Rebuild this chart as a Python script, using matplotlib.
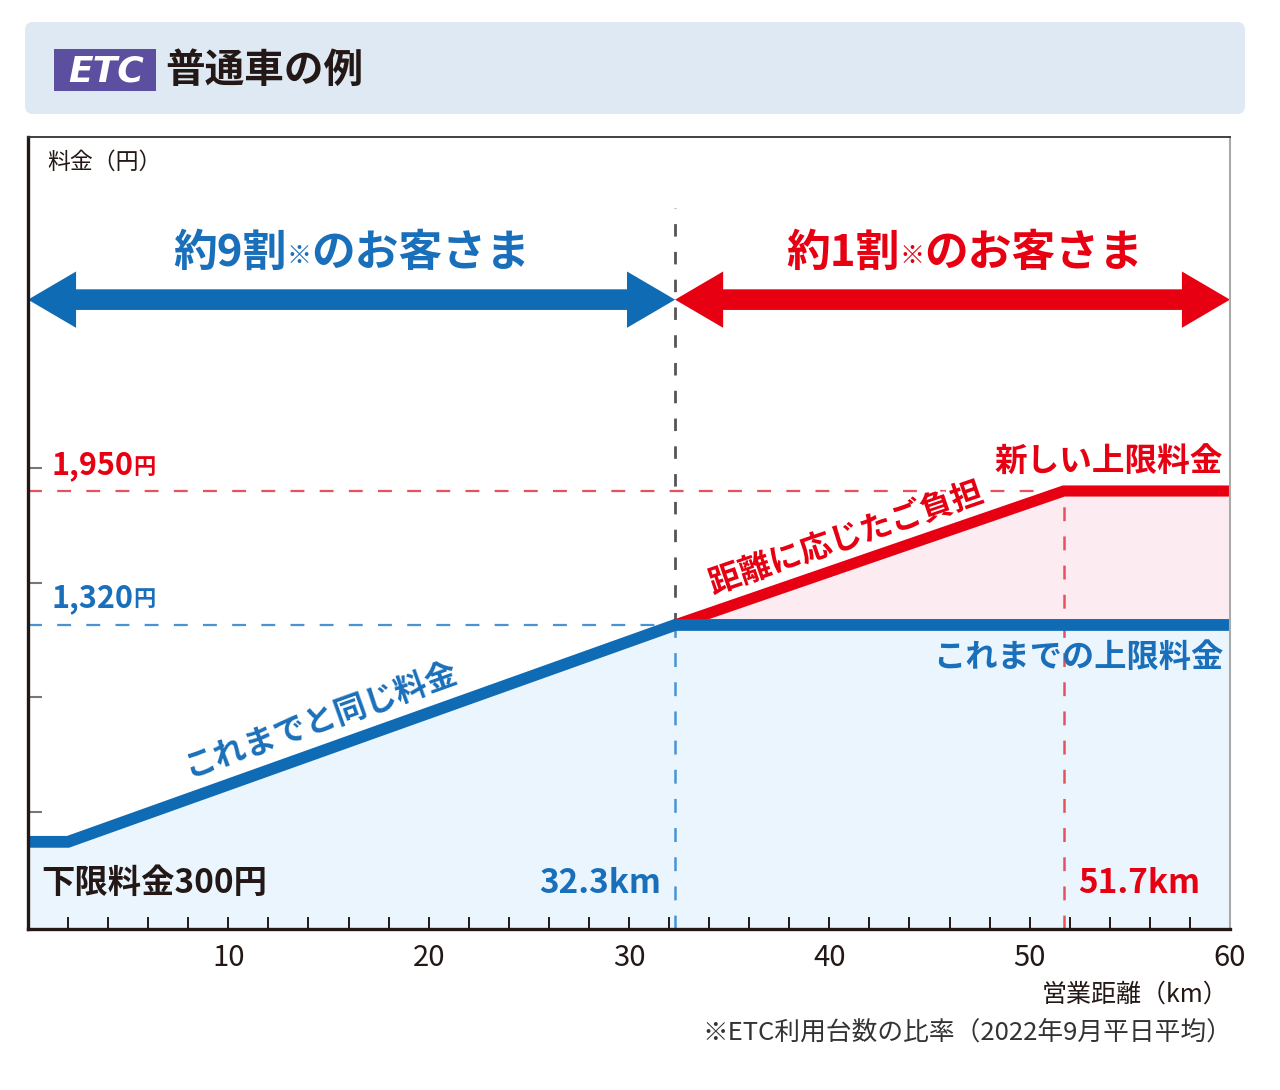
import matplotlib
matplotlib.use('Agg')
import matplotlib.pyplot as plt
import matplotlib.patheffects as pe
from matplotlib.patches import FancyBboxPatch, Rectangle, FancyArrow

plt.rcParams['font.family'] = ['Noto Sans CJK JP', 'DejaVu Sans']
plt.rcParams['lines.scale_dashes'] = False

# ---------------- data ----------------
old_km = [0, 2, 32.3, 60]            # これまでの料金
old_fare = [300, 300, 1320, 1320]
new_km = [32.3, 51.7, 60]            # 新しい料金
new_fare = [1320, 1950, 1950]
old_cap_km = 32.3
new_cap_km = 51.7
old_cap = 1320
new_cap = 1950
x_max = 60
x_ticks = list(range(2, 61, 2))
x_tick_labels = ['10', '20', '30', '40', '50', '60']
y_ticks = [440, 980, 1515, 2060]
share_left = ['約9割', '※', 'のお客さま']
share_right = ['約1割', '※', 'のお客さま']
y_limits = (-110, 3615)
arrow_level = 2850
share_text_level = 3070
divider_top = 3280

# ---------------- colours ----------------
BLUE = '#106bb5'
BLUE_T = '#1a6fba'
BLUE_D = '#4a92d2'
RED = '#e60012'
RED_D = '#e9505e'
FILL_BLUE = '#eaf5fd'
FILL_PINK = '#fcecf1'
DARK = '#231815'

fig = plt.figure(figsize=(12.8, 10.9), dpi=100, facecolor='white')

# overlay for header / footnote (pixel coordinates)
ov = fig.add_axes([0, 0, 1, 1], zorder=-1)
ov.set_xlim(0, 1280)
ov.set_ylim(1090, 0)
ov.axis('off')
ov.add_patch(FancyBboxPatch((25, 22), 1220, 92,
                            boxstyle='round,pad=0,rounding_size=8',
                            fc='#dfe9f3', ec='none'))
ov.add_patch(Rectangle((54, 49), 102, 42, fc='#5d4f9f', ec='none'))
ov.text(106, 71, 'ETC', color='white', family='DejaVu Sans', style='italic',
        weight='bold', fontsize=26, ha='center', va='center')
ov.text(165, 70, '普通車の例', color=DARK, fontsize=28.5, weight='bold',
        ha='left', va='center')
ov.text(1228, 995, '営業距離（km）', color=DARK, fontsize=18,
        ha='right', va='center')
ov.text(1232, 1033, '※ETC利用台数の比率（2022年9月平日平均）', color='#333333',
        fontsize=18.5, ha='right', va='center')

# main axes
L, R, T, B = 28, 1230, 137, 929
ax = fig.add_axes([L / 1280, (1090 - B) / 1090, (R - L) / 1280, (B - T) / 1090])
ax.set_xlim(0, x_max)
ax.set_ylim(*y_limits)
ybot = y_limits[0]

# fills
ax.fill_between(old_km, ybot, old_fare, color=FILL_BLUE, lw=0, zorder=1)
ax.fill_between(new_km, old_cap, new_fare, color=FILL_PINK, lw=0, zorder=1)

# dashed guide lines
dash = (0, (10, 11))
ax.plot([0, new_cap_km], [new_cap, new_cap], color=RED_D, lw=1.6,
        linestyle=dash, zorder=2)
ax.plot([0, old_cap_km], [old_cap, old_cap], color=BLUE_D, lw=1.6,
        linestyle=dash, zorder=2)
ax.plot([old_cap_km, old_cap_km], [old_cap, divider_top], color='#555555',
        lw=2.0, linestyle=(0, (9, 11)), zorder=2)
ax.plot([old_cap_km, old_cap_km], [ybot, old_cap], color=BLUE_D, lw=1.8,
        linestyle=dash, zorder=2)
ax.plot([new_cap_km, new_cap_km], [ybot, new_cap], color=RED_D, lw=1.8,
        linestyle=dash, zorder=2)

# fare lines
ax.plot(new_km, new_fare, color=RED, lw=8, solid_joinstyle='miter',
        solid_capstyle='butt', zorder=4)
ax.plot(old_km, old_fare, color=BLUE, lw=8.5, solid_joinstyle='miter',
        solid_capstyle='butt', zorder=5)

# double arrows: two overlapping single arrows, each tail hidden in the
# other arrow's head (no seam, no protruding shaft)
HEAD_LEN = 2.4
def double_arrow(x0, x1, color):
    for start, end in ((x1 - HEAD_LEN, x0), (x0 + HEAD_LEN, x1)):
        ax.add_patch(FancyArrow(start, arrow_level, end - start, 0, width=95,
                                head_width=265, head_length=HEAD_LEN,
                                length_includes_head=True, color=color,
                                lw=0, zorder=6))

double_arrow(0, old_cap_km, BLUE)
double_arrow(old_cap_km, x_max, RED)

def share_text(x, parts, color):
    t1 = ax.text(x, share_text_level, parts[0], color=color, fontsize=31.5,
                 weight='bold', ha='left', va='center', zorder=7)
    t2 = ax.annotate(parts[1], xy=(1, 0.42), xycoords=t1, color=color,
                     fontsize=18, weight='bold', ha='left', va='center',
                     zorder=7)
    ax.annotate(parts[2], xy=(1, 0), xycoords=(t2, t1), color=color,
                fontsize=31.5, weight='bold', ha='left', va='bottom', zorder=7)

share_text(7.25, share_left, BLUE_T)
share_text(37.85, share_right, RED)

# value labels
def yen_label(x, y, num, color):
    t = ax.text(x, y, num, color=color, fontsize=22, weight='bold',
                ha='left', va='center', zorder=7)
    ax.annotate('円', xy=(1, 0.08), xycoords=t, color=color, fontsize=16,
                weight='bold', ha='left', va='bottom', zorder=7)

yen_label(1.15, 2072, '1,950', RED)
yen_label(1.15, 1447, '1,320', BLUE_T)

ax.text(59.65, 2086, '新しい上限料金', color=RED, fontsize=23.5, weight='bold',
        ha='right', va='center', zorder=7)
ax.text(59.65, 1165, 'これまでの上限料金', color=BLUE_T, fontsize=23.2,
        weight='bold', ha='right', va='center', zorder=7)

ax.text(14.6, 873, 'これまでと同じ料金', color=BLUE_T, fontsize=23,
        weight='bold', rotation=19.7, rotation_mode='anchor',
        ha='center', va='center', zorder=7)
ax.text(40.85, 1725, '距離に応じたご負担', color=RED, fontsize=23,
        weight='bold', rotation=18.9, rotation_mode='anchor',
        ha='center', va='center', zorder=7,
        path_effects=[pe.withStroke(linewidth=4, foreground='white')])

ax.text(0.65, 103, '下限料金300円', color=DARK, fontsize=24, weight='bold',
        ha='left', va='center', zorder=7)
ax.text(31.6, 103, f'{old_cap_km}km', color=BLUE_T, fontsize=24,
        weight='bold', ha='right', va='center', zorder=7)
ax.text(52.4, 103, f'{new_cap_km}km', color=RED, fontsize=24,
        weight='bold', ha='left', va='center', zorder=7)

ax.text(0.016, 0.968, '料金（円）', transform=ax.transAxes, color=DARK,
        fontsize=16.5, ha='left', va='center')

# ticks
ax.set_xticks(x_ticks)
ax.set_xticklabels([s if s in x_tick_labels else '' for s in
                    [str(v) for v in x_ticks]])
ax.tick_params(axis='x', direction='in', length=9, width=1.4, color=DARK,
               labelsize=21, labelcolor=DARK, pad=10)
ax.set_yticks(y_ticks)
ax.set_yticklabels([])
ax.tick_params(axis='y', direction='in', length=10, width=1.5,
               color='#777777')

for side, lw, col in [('left', 2.4, DARK), ('bottom', 2.4, DARK),
                      ('top', 1.3, '#333333'), ('right', 1.5, '#aaaaaa')]:
    ax.spines[side].set_linewidth(lw)
    ax.spines[side].set_color(col)
    ax.spines[side].set_zorder(8)

fig.savefig('out.png', dpi=100, facecolor='white')
